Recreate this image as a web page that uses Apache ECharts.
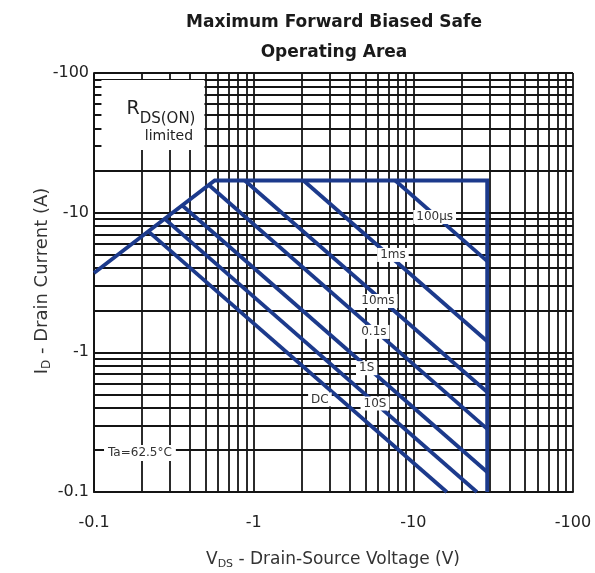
<!DOCTYPE html>
<html><head><meta charset="utf-8">
<script src="https://cdn.jsdelivr.net/npm/echarts@6/dist/echarts.min.js"></script>
<style>html,body{margin:0;padding:0;background:#fff}#c{width:595px;height:573px}</style>
</head><body><div id="c"></div>
<script>
// ---- data ----
const xTickValues = [0.1, 1, 10, 100];
const xTickLabels = ['-0.1', '-1', '-10', '-100'];
const yTickValues = [0.1, 1, 10, 100];
const yTickLabels = ['-0.1', '-1', '-10', '-100'];
const gridX = [0.1,0.2,0.3,0.4,0.5,0.6,0.7,0.8,0.9,1,2,3,4,5,6,7,8,9,10,20,30,40,50,60,70,80,90,100];
const gridY = [0.1,0.2,0.3,0.4,0.5,0.6,0.7,0.8,0.9,1,2,3,4,5,6,7,8,9,10,20,30,40,50,60,70,80,90,100];
// boundary: RDS(on) limit -> ID max -> VDS max   [VDS (V, magnitude), ID (A, magnitude)]
const limitLine  = [[0.1, 3.7], [0.57, 17], [29, 17], [29, 0.1]];
const pulse100us = [[7.7, 17], [29, 4.5]];
const pulse1ms   = [[2.05, 17], [29, 1.2]];
const pulse10ms  = [[0.88, 17], [29, 0.52]];
const pulse100ms = [[0.52, 15.9], [29, 0.283]];
const pulse1s    = [[0.353, 11.4], [29, 0.139]];
const pulse10s   = [[0.275, 9.1], [25, 0.1]];
const pulseDC    = [[0.217, 7.4], [16.2, 0.1]];
const curveLabels  = ['100µs', '1ms', '10ms', '0.1s', '1S', '10S', 'DC'];
const curveAnchors = [[13.6, 9.3], [7.45, 4.98], [6.0, 2.33], [5.66, 1.4], [5.1, 0.77], [5.75, 0.43], [2.6, 0.46]];
const noteText = 'Ta=62.5°C';
const noteAnchor = [0.194, 0.19];
const rdsAnchor = [0.234, 50];

// ---- chart ----
const FONT = 'DejaVu Sans';
const BLUE = '#1c3a8c';
const INK = '#222';
function tickLabel(v, vals, labs) {
  for (let i = 0; i < vals.length; i++) {
    if (Math.abs(Math.log10(v) - Math.log10(vals[i])) < 0.01) return labs[i];
  }
  return '';
}
const curves = [limitLine, pulse100us, pulse1ms, pulse10ms, pulse100ms, pulse1s, pulse10s, pulseDC];
const xMin = gridX[0], xMax = gridX[gridX.length - 1];
const yMin = gridY[0], yMax = gridY[gridY.length - 1];

const chart = echarts.init(document.getElementById('c'));
const option = {
  animation: false,
  backgroundColor: '#fff',
  grid: { left: 94, top: 73, width: 479, height: 419 },
  xAxis: {
    type: 'log', logBase: 10, min: xMin, max: xMax,
    axisLine: { show: true, onZero: false, lineStyle: { color: INK, width: 2 } },
    axisTick: { show: false }, splitLine: { show: false },
    axisLabel: { margin: 23, fontFamily: FONT, fontSize: 16, color: INK,
      showMinLabel: true, showMaxLabel: true,
      formatter: v => tickLabel(v, xTickValues, xTickLabels) }
  },
  yAxis: {
    type: 'log', logBase: 10, min: yMin, max: yMax,
    axisLine: { show: true, onZero: false, lineStyle: { color: INK, width: 2 } },
    axisTick: { show: false }, splitLine: { show: false },
    axisLabel: { margin: 5, fontFamily: FONT, fontSize: 16, color: INK,
      showMinLabel: true, showMaxLabel: true,
      formatter: v => tickLabel(v, yTickValues, yTickLabels) }
  },
  graphic: [
    { type: 'text', x: 334, y: 23, style: { text: 'Maximum Forward Biased Safe', fill: '#1a1a1a',
        font: 'bold 17px "DejaVu Sans"', textAlign: 'center', textVerticalAlign: 'middle' } },
    { type: 'text', x: 334, y: 53, style: { text: 'Operating Area', fill: '#1a1a1a',
        font: 'bold 17px "DejaVu Sans"', textAlign: 'center', textVerticalAlign: 'middle' } },
    { type: 'text', x: 333, y: 560, style: {
        text: '{v|V}{s|DS}{t| - Drain-Source Voltage (V)}',
        textAlign: 'center', textVerticalAlign: 'middle',
        rich: {
          v: { fontFamily: FONT, fontSize: 17, fill: '#333', lineHeight: 20, verticalAlign: 'middle' },
          s: { fontFamily: FONT, fontSize: 11, fill: '#333', lineHeight: 20, verticalAlign: 'bottom' },
          t: { fontFamily: FONT, fontSize: 17, fill: '#333', lineHeight: 20, verticalAlign: 'middle' }
        } } },
    { type: 'text', x: 42, y: 281, rotation: Math.PI / 2, style: {
        text: '{v|I}{s|D}{t| - Drain Current (A)}',
        textAlign: 'center', textVerticalAlign: 'middle',
        rich: {
          v: { fontFamily: FONT, fontSize: 18, fill: '#333', lineHeight: 22, verticalAlign: 'middle' },
          s: { fontFamily: FONT, fontSize: 12, fill: '#333', lineHeight: 22, verticalAlign: 'bottom' },
          t: { fontFamily: FONT, fontSize: 18, fill: '#333', lineHeight: 22, verticalAlign: 'middle' }
        } } }
  ],
  series: [
    {
      type: 'lines', coordinateSystem: 'cartesian2d', polyline: false, silent: true, z: 1,
      lineStyle: { color: '#141414', width: 1.8, opacity: 1 },
      data: gridX.map(v => ({ coords: [[v, yMin], [v, yMax]] }))
        .concat(gridY.map(v => ({ coords: [[xMin, v], [xMax, v]] })))
    }
  ].concat(curves.map(d => ({
      type: 'line', data: d, symbol: 'none', silent: true, z: 3,
      lineStyle: { color: BLUE, width: 3.8, join: 'miter' }
  }))).concat([
    {
      type: 'scatter', symbolSize: 0, silent: true, z: 5,
      itemStyle: { opacity: 1 },
      label: { show: true, position: 'inside', backgroundColor: '#fff', padding: [1, 3],
        color: '#333', fontFamily: FONT, fontSize: 12, opacity: 1 },
      data: curveAnchors.map((p, i) => ({ value: p, label: { formatter: curveLabels[i] } }))
        .concat([{ value: noteAnchor, label: { formatter: noteText, padding: [2, 4] } }])
    },
    {
      type: 'scatter', symbol: 'rect', symbolSize: [103, 70], silent: true, z: 5,
      itemStyle: { color: '#fff', opacity: 1 },
      label: { show: true, position: 'inside', offset: [8, 8], opacity: 1,
        formatter: '{r|R}{s|DS(ON)}\n{l|limited}',
        rich: {
          r: { fontFamily: FONT, fontSize: 19, color: INK, lineHeight: 27, verticalAlign: 'top' },
          s: { fontFamily: FONT, fontSize: 15, color: INK, lineHeight: 27, verticalAlign: 'bottom' },
          l: { fontFamily: FONT, fontSize: 14, color: INK, lineHeight: 20, padding: [0, 0, 0, 16] }
        } },
      data: [{ value: rdsAnchor }]
    }
  ])
};
chart.setOption(option);
</script>
</body></html>
